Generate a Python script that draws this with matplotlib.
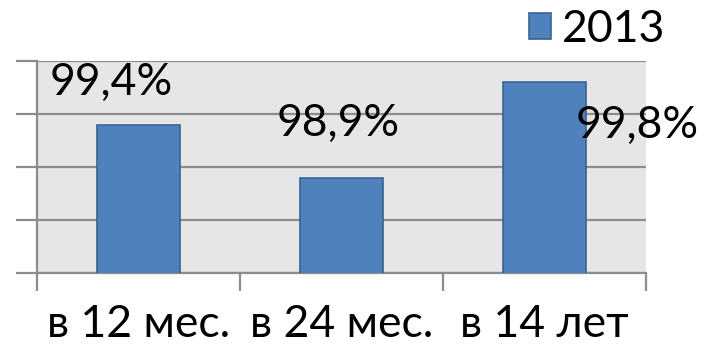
import matplotlib
matplotlib.use("Agg")
import matplotlib.pyplot as plt

# данные
categories = ["в 12 мес.", "в 24 мес.", "в 14 лет"]
values = [99.4, 98.9, 99.8]
value_labels = ["99,4%", "98,9%", "99,8%"]
series_name = "2013"

# положение подписей (смещение от центра столбца, по y - в единицах данных)
label_pos = [(-0.135, 99.80), (0.985, 99.415), (2.455, 99.39)]

plt.rcParams['font.family'] = ['Lato', 'DejaVu Sans']

fig = plt.figure(figsize=(7.1, 3.44), dpi=100)
ax = fig.add_axes([0.0521, 0.2064, 0.8578, 0.6163])

ax.set_facecolor("#e6e6e6")
x = range(len(categories))
ax.bar(x, values, width=0.41, color="#4f81bd", edgecolor="#3b6291",
       linewidth=1.2, label=series_name, zorder=3)

ax.set_xlim(-0.5, 2.5)
ax.set_ylim(98.0, 100.0)

# сетка
ax.set_yticks([98.0, 98.5, 99.0, 99.5, 100.0])
ax.yaxis.grid(True, color="#8c8c8c", linewidth=1.6, zorder=0)
ax.set_axisbelow(True)
ax.tick_params(axis="y", length=15, width=1.6, color="#8c8c8c", labelleft=False)

# подписи оси x
ax.set_xticks([0, 1, 2])
ax.set_xticklabels(categories, fontsize=32)
ax.tick_params(axis="x", length=0, pad=22)
ax.set_xticks([-0.5, 0.5, 1.5, 2.5], minor=True)
ax.tick_params(axis="x", which="minor", length=13, width=1.6, color="#8c8c8c")

for s in ["top", "right"]:
    ax.spines[s].set_visible(False)
for s in ["left", "bottom"]:
    ax.spines[s].set_color("#8c8c8c")
    ax.spines[s].set_linewidth(1.6)

# подписи значений
for (px, py), txt in zip(label_pos, value_labels):
    ax.text(px, py, txt, ha="center", va="center", fontsize=32,
            color="black", zorder=4)

ax.legend(loc="center", bbox_to_anchor=(0.92, 1.15), fontsize=32,
          frameon=False, handlelength=0.5, handleheight=0.5,
          handletextpad=0.25, borderaxespad=0, borderpad=0)

fig.savefig("out.png", dpi=100)
